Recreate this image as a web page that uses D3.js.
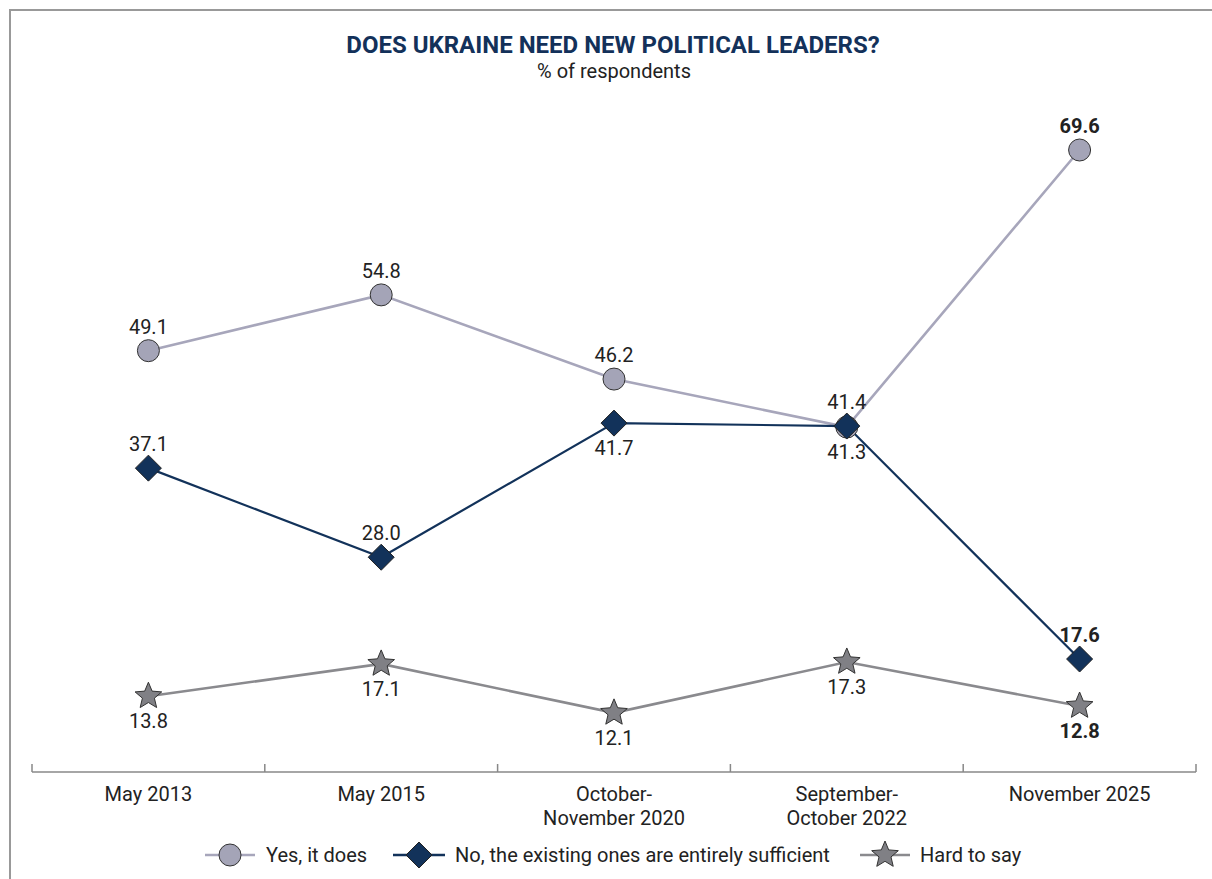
<!DOCTYPE html>
<html><head><meta charset="utf-8">
<script src="https://cdn.jsdelivr.net/npm/d3@7"></script>
<style>
body{margin:0;background:#fff;}
text{font-family:"Liberation Sans Narrow","Roboto",sans-serif;}
</style></head>
<body><svg id="c" width="1212" height="879"></svg>
<script>
const categories = [["May 2013"],["May 2015"],["October-","November 2020"],["September-","October 2022"],["November 2025"]];
const yesValues = [49.1, 54.8, 46.2, 41.3, 69.6];
const noValues = [37.1, 28.0, 41.7, 41.4, 17.6];
const hardValues = [13.8, 17.1, 12.1, 17.3, 12.8];
const seriesNames = ["Yes, it does","No, the existing ones are entirely sufficient","Hard to say"];
const yesLabelPos = ["above","above","above","below","above"];
const noLabelPos = ["above","above","below","above","above"];
const hardLabelPos = ["below","below","below","below","below"];

const svg = d3.select("#c");
const W=1212,H=879;
// frame
svg.append("line").attr("x1",9).attr("x2",W).attr("y1",10).attr("y2",10).attr("stroke","#999").attr("stroke-width",2);
svg.append("line").attr("x1",10).attr("x2",10).attr("y1",10).attr("y2",H).attr("stroke","#999").attr("stroke-width",2);

svg.append("text").attr("x",613).attr("y",53).attr("text-anchor","middle").attr("font-weight","bold").attr("font-size",24).attr("fill","#13315a").text("DOES UKRAINE NEED NEW POLITICAL LEADERS?");
svg.append("text").attr("x",614).attr("y",78).attr("text-anchor","middle").attr("font-size",20).attr("fill","#222").text("% of respondents");

const idx = d3.range(categories.length);
const x = d3.scaleBand().domain(idx).range([32,1196]);
const y = d3.scaleLinear().domain([0,70]).range([831.3,146.1]);
const cx = i => x(i)+x.bandwidth()/2;

// axis
const ax = svg.append("g").attr("transform","translate(0,772)");
ax.append("line").attr("x1",32).attr("x2",1196).attr("stroke","#888").attr("stroke-width",1.5);
const bounds = idx.map(i=>x(i)).concat([1196]);
ax.selectAll("line.t").data(bounds).join("line").attr("class","t").attr("x1",d=>d).attr("x2",d=>d).attr("y1",0).attr("y2",-8).attr("stroke","#888").attr("stroke-width",1.5);
const cl = svg.selectAll("text.cat").data(idx).join("text").attr("class","cat").attr("text-anchor","middle").attr("font-size",20).attr("fill","#222");
cl.each(function(i){
  const t=d3.select(this);
  categories[i].forEach((s,k)=>t.append("tspan").attr("x",cx(i)).attr("y",801+k*23.5).text(s));
});

function star(r){
  const pts=[];
  for(let k=0;k<10;k++){
    const a=-Math.PI/2+k*Math.PI/5;
    const rr = k%2===0? r : r*0.45;
    pts.push([rr*Math.cos(a), rr*Math.sin(a)]);
  }
  return "M"+pts.map(p=>p.join(",")).join("L")+"Z";
}
function diamond(r){return `M0,${-r}L${r},0L0,${r}L${-r},0Z`;}

const series = [
  {vals:yesValues, pos:yesLabelPos, line:"#a7a6bb", fill:"#a4a4b7", marker:"circle"},
  {vals:noValues, pos:noLabelPos, line:"#12325a", fill:"#12325a", marker:"diamond"},
  {vals:hardValues, pos:hardLabelPos, line:"#8a8a8e", fill:"#808085", marker:"star"}
];
const lineGen = d3.line().x((d,i)=>cx(i)).y(d=>y(d));
function drawMarker(g, type, fill){
  if(type==="circle") g.append("circle").attr("r",11).attr("fill",fill).attr("stroke","#333").attr("stroke-width",1);
  else if(type==="diamond") g.append("path").attr("d",diamond(13)).attr("fill",fill).attr("stroke","#222").attr("stroke-width",1);
  else g.append("path").attr("d",star(14)).attr("fill",fill).attr("stroke","#333").attr("stroke-width",1);
}
// draw order: hard, yes, no (navy on top)
[2,0,1].forEach(si=>{
  const s=series[si];
  svg.append("path").datum(s.vals).attr("d",lineGen).attr("fill","none").attr("stroke",s.line).attr("stroke-width",si===1?2.2:2.6);
});
[2,0,1].forEach(si=>{
  const s=series[si];
  s.vals.forEach((v,i)=>{
    const g=svg.append("g").attr("transform",`translate(${cx(i)},${y(v)})`);
    drawMarker(g,s.marker,s.fill);
  });
});
series.forEach((s,si)=>{
  s.vals.forEach((v,i)=>{
    const last = i===s.vals.length-1;
    const yy = s.pos[i]==="above"? y(v)-17 : y(v)+32;
    svg.append("text").attr("x",cx(i)).attr("y",yy).attr("text-anchor","middle").attr("font-size",20)
      .attr("font-weight",last?"bold":"normal").attr("fill","#222").text(v.toFixed(1));
  });
});

// legend
const legX=[[205,255,266],[393,445,455],[860,910,920]];
series.forEach((s,si)=>{
  const [a,b,t]=legX[si];
  const ly=855;
  svg.append("line").attr("x1",a).attr("x2",b).attr("y1",ly).attr("y2",ly).attr("stroke",s.line).attr("stroke-width",2.6);
  const g=svg.append("g").attr("transform",`translate(${(a+b)/2},${ly})`);
  drawMarker(g,s.marker,s.fill);
  svg.append("text").attr("x",t).attr("y",ly+7).attr("font-size",20).attr("fill","#222").text(seriesNames[si]);
});
</script></body></html>
